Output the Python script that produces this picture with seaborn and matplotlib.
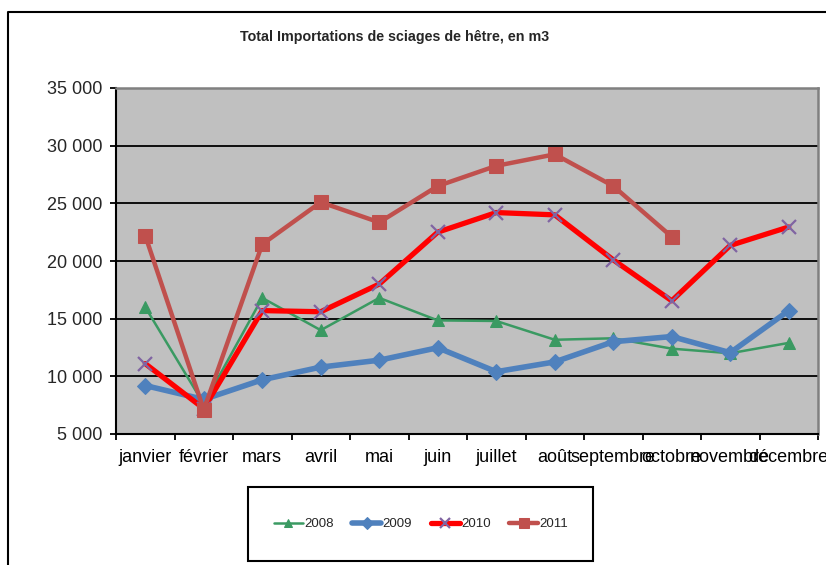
import numpy as np
import pandas as pd
import matplotlib
matplotlib.use("Agg")
import matplotlib.pyplot as plt
from matplotlib.patches import Rectangle
from matplotlib.lines import Line2D
from matplotlib.ticker import FuncFormatter, FixedLocator
import seaborn as sns

months = ["janvier", "février", "mars", "avril", "mai", "juin", "juillet",
          "août", "septembre", "octobre", "novembre", "décembre"]
v2008 = [16000, 7600, 16800, 14000, 16800, 14850, 14800, 13170, 13300, 12400, 12000, 12900]
v2009 = [9200, 8000, 9700, 10800, 11400, 12480, 10400, 11250, 13000, 13450, 12050, 15700]
v2010 = [11100, 7200, 15700, 15600, 18000, 22500, 24200, 24000, 20100, 16550, 21350, 22950]
v2011 = [22200, 7100, 21450, 25100, 23350, 26500, 28250, 29250, 26500, 22100, np.nan, np.nan]
years = ["2008", "2009", "2010", "2011"]
yticks = [5000, 10000, 15000, 20000, 25000, 30000, 35000]
title = "Total Importations de sciages de hêtre, en m3"

sns.set_style("white")
plt.rcParams["font.family"] = ["Liberation Sans", "DejaVu Sans"]

W, H = 826, 565
fig = plt.figure(figsize=(W / 100, H / 100), dpi=100)
ax = fig.add_axes([116 / W, 1 - 434 / H, (818 - 116) / W, (434 - 88) / H])
ax.set_facecolor("#C0C0C0")

x = np.arange(len(months))
df = pd.DataFrame({"x": x, "2008": v2008, "2009": v2009, "2010": v2010, "2011": v2011})

styles = {
    "2008": dict(color="#3A9A62", linewidth=1.8, marker="^", markersize=8,
                 markerfacecolor="#3A9A62", markeredgecolor="#3A9A62"),
    "2009": dict(color="#4F81BD", linewidth=4.0, marker="D", markersize=8,
                 markerfacecolor="#4F81BD", markeredgecolor="#4F81BD"),
    "2010": dict(color="#FF0000", linewidth=3.8, marker="x", markersize=10,
                 markeredgecolor="#8064A2", markeredgewidth=1.6),
    "2011": dict(color="#C0504D", linewidth=3.2, marker="s", markersize=10,
                 markerfacecolor="#C0504D", markeredgecolor="#C0504D"),
}

for i, yr in enumerate(years):
    sub = df[["x", yr]].dropna()
    sns.lineplot(data=sub, x="x", y=yr, ax=ax, label=yr, estimator=None,
                 sort=False, zorder=3 + i, **styles[yr])

ax.set_xlim(-0.5, len(months) - 0.5)
ax.set_ylim(5000, 35000)
ax.set_xticks(x)
ax.set_xticklabels(months)
ax.xaxis.set_minor_locator(FixedLocator(np.arange(-0.5, len(months), 1.0)))
ax.tick_params(axis="x", which="major", length=0, pad=11, labelsize=13, colors="black")
ax.tick_params(axis="x", which="minor", length=4, width=1.3, color="black", direction="out", bottom=True)
ax.set_yticks(yticks)
ax.yaxis.set_major_formatter(FuncFormatter(lambda v, p: f"{int(v):,}".replace(",", " ")))
ax.tick_params(axis="y", which="major", length=4, width=1.3, color="black", direction="out",
               left=True, pad=6, labelsize=13)
ax.set_xlabel("")
ax.set_ylabel("")

ax.grid(False)
for yv in yticks[1:-1]:
    ax.axhline(yv, color="black", linewidth=1.3, zorder=1)

ax.spines["left"].set_color("black")
ax.spines["bottom"].set_color("black")
ax.spines["left"].set_linewidth(1.5)
ax.spines["bottom"].set_linewidth(1.5)
ax.spines["top"].set_color("#808080")
ax.spines["right"].set_color("#808080")
ax.spines["top"].set_linewidth(1.8)
ax.spines["right"].set_linewidth(1.8)

leg = ax.legend(loc="center", bbox_to_anchor=(421 / W, 1 - 524 / H), bbox_transform=fig.transFigure,
                ncol=4, frameon=False, fontsize=9.5, handlelength=2.2, handletextpad=0.1,
                columnspacing=1.4, markerscale=0.75)

fig.patches.append(Rectangle((248 / W, 1 - 561 / H), 345 / W, 74 / H, transform=fig.transFigure,
                             fill=False, edgecolor="black", linewidth=1.5))
fig.lines.append(Line2D([8 / W, 8 / W, 1.0], [0.0, 1 - 12 / H, 1 - 12 / H], transform=fig.transFigure,
                        color="black", linewidth=1.5))

fig.text(395 / W, 1 - 37 / H, title, ha="center", va="center", fontweight="bold", fontsize=10.3)

fig.savefig("out.png", dpi=100)
